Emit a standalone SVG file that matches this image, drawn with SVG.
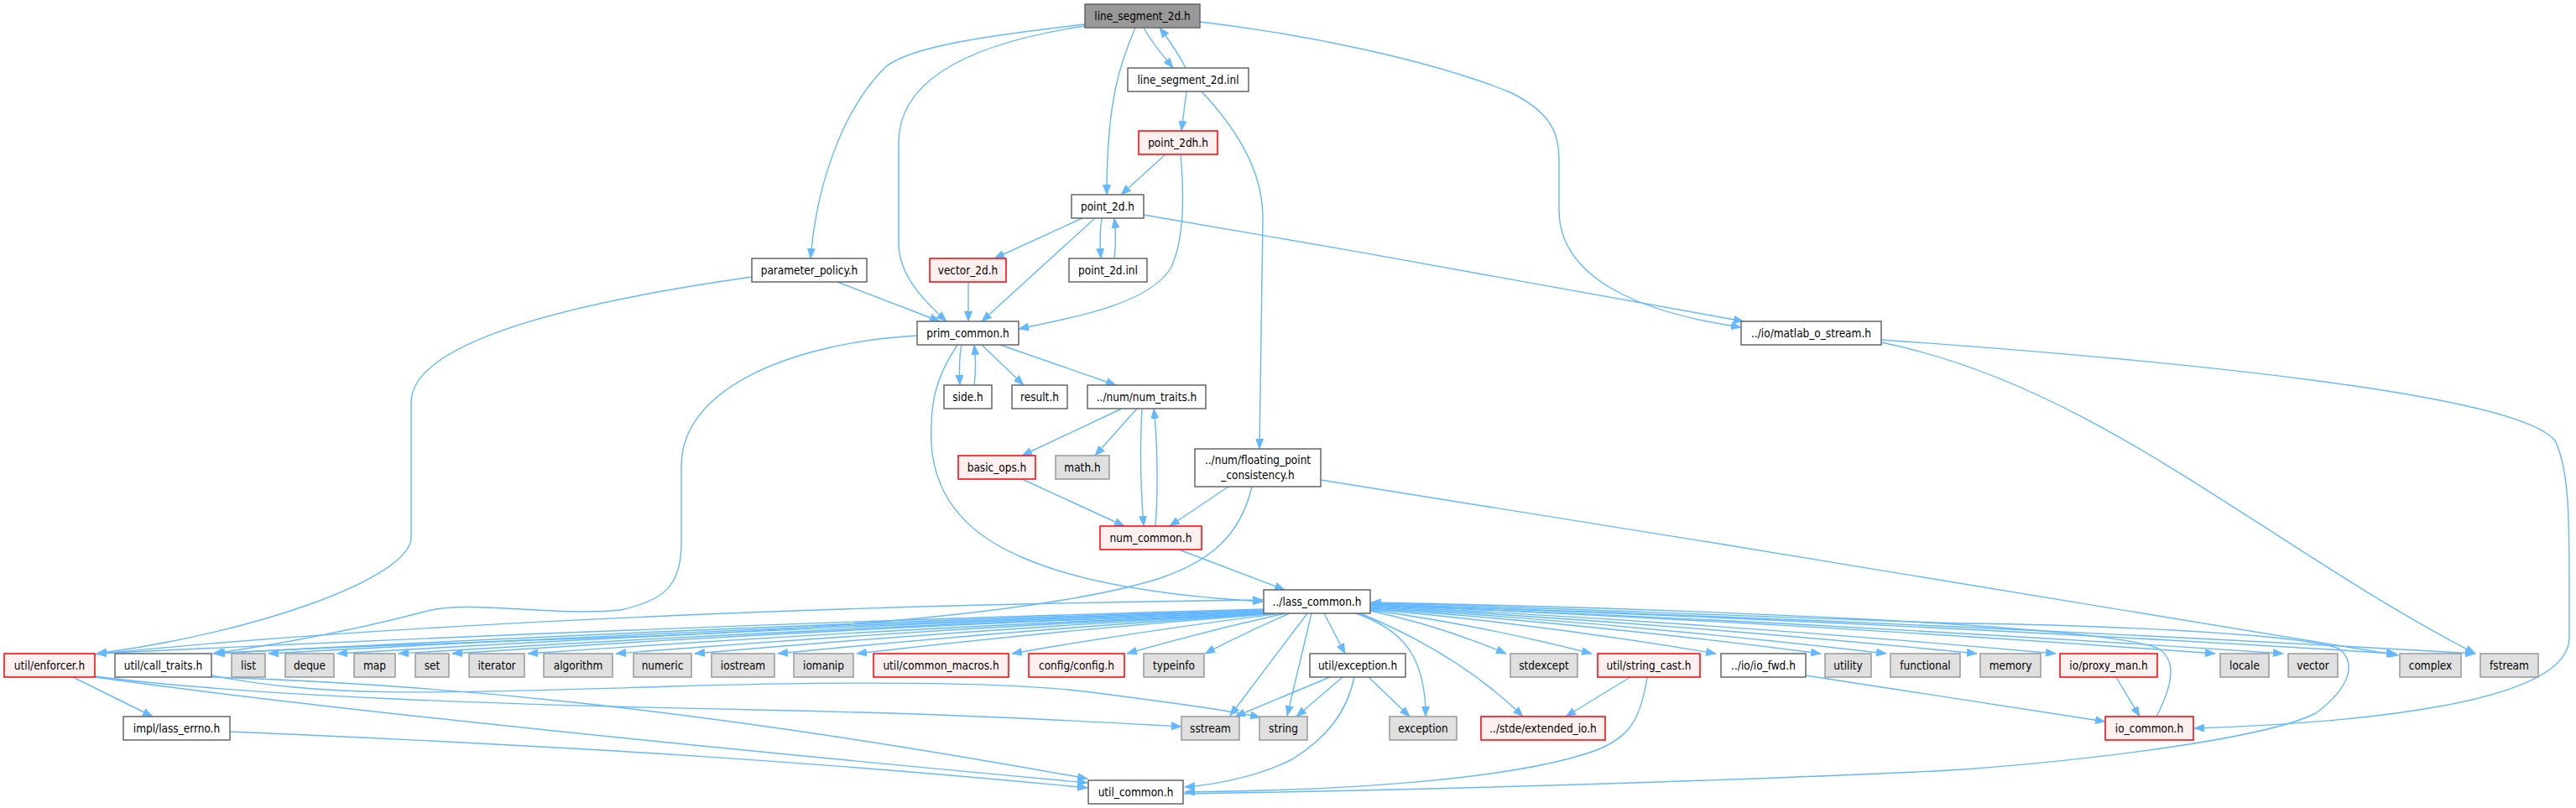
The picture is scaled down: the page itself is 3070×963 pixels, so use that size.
<svg xmlns="http://www.w3.org/2000/svg" width="3070" height="963" viewBox="0 0 3070 963">
<defs>
<style>
.e{fill:none;stroke:#63b8ff;stroke-width:1.4}
.n rect{stroke-width:1.5}
.root rect{fill:#999999;stroke:#666666}
.w rect{fill:#ffffff;stroke:#666666}
.g rect{fill:#e0e0e0;stroke:#999999}
.r rect{fill:#fff0f0;stroke:#ff0000}
text{font-family:"DejaVu Sans Condensed","DejaVu Sans",sans-serif;font-stretch:condensed;font-size:13.5px;text-anchor:middle;fill:#000000}
</style>
<marker id="a" markerWidth="13" markerHeight="10" refX="12" refY="5" orient="auto" markerUnits="userSpaceOnUse"><path d="M0,0L13,5L0,10z" fill="#63b8ff"/></marker>
</defs>
<rect width="3070" height="963" fill="#ffffff"/>
<g id="edges" marker-end="url(#a)">
<path class="e" marker-end="url(#a)" d="M1293,29 C1180,42 1085,55 1055,80 C1000,135 972,230 966,308"/>
<path class="e" marker-end="url(#a)" d="M1293,31 C1180,48 1071,85 1071,170 L1071,290 C1071,330 1105,362 1128,383"/>
<path class="e" marker-end="url(#a)" d="M1353,33 C1335,75 1319,120 1319,232"/>
<path class="e" marker-end="url(#a)" d="M1363,33 C1372,50 1385,65 1398,81"/>
<path class="e" marker-end="url(#a)" d="M1413,81 C1405,65 1395,50 1382,33"/>
<path class="e" marker-end="url(#a)" d="M1414,109 L1408,156"/>
<path class="e" marker-end="url(#a)" d="M1432,109 C1470,150 1505,200 1505,260 L1501,535"/>
<path class="e" marker-end="url(#a)" d="M1430,26 C1550,40 1700,70 1800,110 C1850,135 1858,160 1858,190 L1858,250 C1858,330 1950,372 2075,390"/>
<path class="e" marker-end="url(#a)" d="M1389,184 L1336,232"/>
<path class="e" marker-end="url(#a)" d="M1407,184 C1412,240 1410,290 1395,320 C1370,360 1290,377 1214,392"/>
<path class="e" marker-end="url(#a)" d="M1290,260 L1185,308"/>
<path class="e" marker-end="url(#a)" d="M1305,260 L1170,383"/>
<path class="e" marker-end="url(#a)" d="M1313,260 C1310,280 1311,295 1312,308"/>
<path class="e" marker-end="url(#a)" d="M1328,308 C1330,290 1330,275 1328,260"/>
<path class="e" marker-end="url(#a)" d="M1363,256 C1600,296 1900,350 2078,383"/>
<path class="e" marker-end="url(#a)" d="M1154,336 L1154,383"/>
<path class="e" marker-end="url(#a)" d="M998,336 L1120,383"/>
<path class="e" marker-end="url(#a)" d="M896,330 C720,355 490,400 490,480 L490,640 C490,690 300,755 115,779"/>
<path class="e" marker-end="url(#a)" d="M1146,411 C1143,425 1143,440 1144,459"/>
<path class="e" marker-end="url(#a)" d="M1161,459 C1163,445 1163,428 1161,411"/>
<path class="e" marker-end="url(#a)" d="M1170,411 L1220,459"/>
<path class="e" marker-end="url(#a)" d="M1192,411 L1330,459"/>
<path class="e" marker-end="url(#a)" d="M1141,411 C1115,450 1108,480 1110,530 C1115,600 1160,640 1220,665 C1300,700 1420,712 1505,717"/>
<path class="e" marker-end="url(#a)" d="M1093,400 C950,408 812,460 812,555 L812,647 C812,700 790,715 740,727 C660,735 560,715 510,728 C420,752 330,768 254,779"/>
<path class="e" marker-end="url(#a)" d="M1337,487 L1218,543"/>
<path class="e" marker-end="url(#a)" d="M1355,487 L1305,543"/>
<path class="e" marker-end="url(#a)" d="M1361,487 C1358,540 1360,590 1363,627"/>
<path class="e" marker-end="url(#a)" d="M1377,627 C1380,590 1380,530 1375,487"/>
<path class="e" marker-end="url(#a)" d="M1218,571 L1340,627"/>
<path class="e" marker-end="url(#a)" d="M1464,580 L1394,627"/>
<path class="e" marker-end="url(#a)" d="M1405,655 L1531,703"/>
<path class="e" marker-end="url(#a)" d="M1492,580 C1478,640 1440,670 1380,690 C1250,730 1000,748 780,758 C550,766 350,772 256,779"/>
<path class="e" marker-end="url(#a)" d="M1574,572 C2000,640 2500,720 2858,781"/>
<path class="e" marker-end="url(#a)" d="M2242,408 C2500,460 2700,650 2950,779"/>
<path class="e" marker-end="url(#a)" d="M2242,405 C2600,430 3000,470 3045,525 C3062,560 3062,620 3062,700 L3062,760 C3062,840 2800,862 2615,868"/>
<path class="e" marker-end="url(#a)" d="M2522,807 L2550,854"/>
<path class="e" marker-end="url(#a)" d="M2570,854 C2590,815 2595,785 2570,772 C2500,745 2000,725 1634,718"/>
<path class="e" marker-end="url(#a)" d="M1410,946 C1800,940 2200,925 2340,917 C2500,905 2700,880 2760,850 C2800,820 2810,790 2787,773 C2740,755 2500,745 2340,743 C2000,732 1800,722 1634,719"/>
<path class="e" marker-end="url(#a)" d="M113,780 C400,750 900,722 1505,715"/>
<path class="e" marker-end="url(#a)" d="M1506,726 Q810,745 115,779"/>
<path class="e" marker-end="url(#a)" d="M1506,727 Q880,745 255,779"/>
<path class="e" marker-end="url(#a)" d="M1506,728 Q913,746 320,779"/>
<path class="e" marker-end="url(#a)" d="M1506,729 Q954,746 402,779"/>
<path class="e" marker-end="url(#a)" d="M1507,730 Q991,747 475,779"/>
<path class="e" marker-end="url(#a)" d="M1508,730 Q1023,747 539,779"/>
<path class="e" marker-end="url(#a)" d="M1510,731 Q1070,748 629,779"/>
<path class="e" marker-end="url(#a)" d="M1512,731 Q1123,748 734,779"/>
<path class="e" marker-end="url(#a)" d="M1515,731 Q1171,749 828,779"/>
<path class="e" marker-end="url(#a)" d="M1518,731 Q1222,750 927,779"/>
<path class="e" marker-end="url(#a)" d="M1522,731 Q1271,750 1021,779"/>
<path class="e" marker-end="url(#a)" d="M1527,731 Q1366,751 1206,779"/>
<path class="e" marker-end="url(#a)" d="M1532,731 Q1437,752 1343,779"/>
<path class="e" marker-end="url(#a)" d="M1537,731 Q1486,753 1436,779"/>
<path class="e" marker-end="url(#a)" d="M1633,728 Q1714,745 1795,779"/>
<path class="e" marker-end="url(#a)" d="M1633,727 Q1765,745 1897,779"/>
<path class="e" marker-end="url(#a)" d="M1633,726 Q1839,744 2045,779"/>
<path class="e" marker-end="url(#a)" d="M1633,725 Q1901,744 2170,779"/>
<path class="e" marker-end="url(#a)" d="M1633,724 Q1940,743 2248,779"/>
<path class="e" marker-end="url(#a)" d="M1633,723 Q1994,743 2356,779"/>
<path class="e" marker-end="url(#a)" d="M1633,722 Q2041,742 2450,779"/>
<path class="e" marker-end="url(#a)" d="M1633,721 Q2136,742 2640,779"/>
<path class="e" marker-end="url(#a)" d="M1633,721 Q2177,742 2721,779"/>
<path class="e" marker-end="url(#a)" d="M1633,720 Q2244,741 2856,779"/>
<path class="e" marker-end="url(#a)" d="M1633,720 Q2291,741 2950,779"/>
<path class="e" marker-end="url(#a)" d="M1558,731 L1466,853"/>
<path class="e" marker-end="url(#a)" d="M1563,731 L1534,853"/>
<path class="e" marker-end="url(#a)" d="M1578,731 L1603,779"/>
<path class="e" marker-end="url(#a)" d="M1616,731 C1670,750 1699,780 1699,854"/>
<path class="e" marker-end="url(#a)" d="M1621,731 Q1740,780 1815,854"/>
<path class="e" marker-end="url(#a)" d="M87,807 L182,854"/>
<path class="e" marker-end="url(#a)" d="M1585,807 L1472,854"/>
<path class="e" marker-end="url(#a)" d="M1600,807 L1545,854"/>
<path class="e" marker-end="url(#a)" d="M1631,807 L1680,854"/>
<path class="e" marker-end="url(#a)" d="M1614,807 C1605,850 1580,880 1540,905 C1500,925 1450,935 1412,938"/>
<path class="e" marker-end="url(#a)" d="M1943,807 L1866,854"/>
<path class="e" marker-end="url(#a)" d="M1963,807 C1955,860 1940,880 1900,895 C1800,930 1600,942 1412,944"/>
<path class="e" marker-end="url(#a)" d="M2152,805 L2509,860"/>
<path class="e" marker-end="url(#a)" d="M252,805 C380,830 500,828 800,818 C1000,812 1200,812 1300,825 C1400,838 1460,846 1502,855"/>
<path class="e" marker-end="url(#a)" d="M113,806 C300,830 600,840 900,846 C1150,851 1300,860 1408,866"/>
<path class="e" marker-end="url(#a)" d="M113,807 C350,840 700,878 1296,933"/>
<path class="e" marker-end="url(#a)" d="M252,807 C500,815 800,838 1296,928"/>
<path class="e" marker-end="url(#a)" d="M274,872 C700,890 1000,910 1296,939"/>
</g>
<g id="n_ls" class="n root"><rect x="1293" y="5" width="137" height="28"/><text x="1361.5" y="24">line_segment_2d.h</text></g>
<g id="n_lsi" class="n w"><rect x="1344" y="81" width="144" height="28"/><text x="1416" y="100">line_segment_2d.inl</text></g>
<g id="n_p2dh" class="n r"><rect x="1357" y="156" width="94" height="28"/><text x="1404" y="175">point_2dh.h</text></g>
<g id="n_p2d" class="n w"><rect x="1277" y="232" width="86" height="28"/><text x="1320" y="251">point_2d.h</text></g>
<g id="n_pp" class="n w"><rect x="896" y="308" width="137" height="28"/><text x="964.5" y="327">parameter_policy.h</text></g>
<g id="n_v2d" class="n r"><rect x="1108" y="308" width="91" height="28"/><text x="1153.5" y="327">vector_2d.h</text></g>
<g id="n_p2di" class="n w"><rect x="1274" y="308" width="93" height="28"/><text x="1320.5" y="327">point_2d.inl</text></g>
<g id="n_prim" class="n w"><rect x="1093" y="383" width="121" height="28"/><text x="1153.5" y="402">prim_common.h</text></g>
<g id="n_matlab" class="n w"><rect x="2075" y="383" width="167" height="28"/><text x="2158.5" y="402">../io/matlab_o_stream.h</text></g>
<g id="n_side" class="n w"><rect x="1125" y="459" width="57" height="28"/><text x="1153.5" y="478">side.h</text></g>
<g id="n_result" class="n w"><rect x="1206" y="459" width="66" height="28"/><text x="1239" y="478">result.h</text></g>
<g id="n_numtraits" class="n w"><rect x="1296" y="459" width="141" height="28"/><text x="1366.5" y="478">../num/num_traits.h</text></g>
<g id="n_basic" class="n r"><rect x="1142" y="543" width="92" height="28"/><text x="1188" y="562">basic_ops.h</text></g>
<g id="n_math" class="n g"><rect x="1258" y="543" width="64" height="28"/><text x="1290" y="562">math.h</text></g>
<g id="n_fp" class="n w"><rect x="1424" y="535" width="150" height="45"/><text x="1499" y="553">../num/floating_point</text><text x="1499" y="571">_consistency.h</text></g>
<g id="n_numcommon" class="n r"><rect x="1311" y="627" width="121" height="28"/><text x="1371.5" y="646">num_common.h</text></g>
<g id="n_lass" class="n w"><rect x="1506" y="703" width="127" height="28"/><text x="1569.5" y="722">../lass_common.h</text></g>
<g id="n_enforcer" class="n r"><rect x="5" y="779" width="108" height="28"/><text x="59" y="798">util/enforcer.h</text></g>
<g id="n_calltraits" class="n w"><rect x="137" y="779" width="115" height="28"/><text x="194.5" y="798">util/call_traits.h</text></g>
<g id="n_list" class="n g"><rect x="276" y="779" width="40" height="28"/><text x="296" y="798">list</text></g>
<g id="n_deque" class="n g"><rect x="340" y="779" width="58" height="28"/><text x="369" y="798">deque</text></g>
<g id="n_map" class="n g"><rect x="422" y="779" width="49" height="28"/><text x="446.5" y="798">map</text></g>
<g id="n_set" class="n g"><rect x="495" y="779" width="40" height="28"/><text x="515" y="798">set</text></g>
<g id="n_iterator" class="n g"><rect x="559" y="779" width="66" height="28"/><text x="592" y="798">iterator</text></g>
<g id="n_algorithm" class="n g"><rect x="648" y="779" width="82" height="28"/><text x="689" y="798">algorithm</text></g>
<g id="n_numeric" class="n g"><rect x="755" y="779" width="69" height="28"/><text x="789.5" y="798">numeric</text></g>
<g id="n_iostream" class="n g"><rect x="848" y="779" width="75" height="28"/><text x="885.5" y="798">iostream</text></g>
<g id="n_iomanip" class="n g"><rect x="946" y="779" width="71" height="28"/><text x="981.5" y="798">iomanip</text></g>
<g id="n_macros" class="n r"><rect x="1041" y="779" width="161" height="28"/><text x="1121.5" y="798">util/common_macros.h</text></g>
<g id="n_config" class="n r"><rect x="1226" y="779" width="114" height="28"/><text x="1283" y="798">config/config.h</text></g>
<g id="n_typeinfo" class="n g"><rect x="1363" y="779" width="72" height="28"/><text x="1399" y="798">typeinfo</text></g>
<g id="n_exch" class="n w"><rect x="1561" y="779" width="114" height="28"/><text x="1618" y="798">util/exception.h</text></g>
<g id="n_stdexcept" class="n g"><rect x="1800" y="779" width="80" height="28"/><text x="1840" y="798">stdexcept</text></g>
<g id="n_stringcast" class="n r"><rect x="1904" y="779" width="122" height="28"/><text x="1965" y="798">util/string_cast.h</text></g>
<g id="n_iofwd" class="n w"><rect x="2051" y="779" width="101" height="28"/><text x="2101.5" y="798">../io/io_fwd.h</text></g>
<g id="n_utility" class="n g"><rect x="2175" y="779" width="55" height="28"/><text x="2202.5" y="798">utility</text></g>
<g id="n_functional" class="n g"><rect x="2253" y="779" width="83" height="28"/><text x="2294.5" y="798">functional</text></g>
<g id="n_memory" class="n g"><rect x="2360" y="779" width="72" height="28"/><text x="2396" y="798">memory</text></g>
<g id="n_proxy" class="n r"><rect x="2455" y="779" width="116" height="28"/><text x="2513" y="798">io/proxy_man.h</text></g>
<g id="n_locale" class="n g"><rect x="2646" y="779" width="58" height="28"/><text x="2675" y="798">locale</text></g>
<g id="n_vector" class="n g"><rect x="2727" y="779" width="59" height="28"/><text x="2756.5" y="798">vector</text></g>
<g id="n_complex" class="n g"><rect x="2860" y="779" width="73" height="28"/><text x="2896.5" y="798">complex</text></g>
<g id="n_fstream" class="n g"><rect x="2956" y="779" width="69" height="28"/><text x="2990.5" y="798">fstream</text></g>
<g id="n_errno" class="n w"><rect x="147" y="854" width="127" height="28"/><text x="210.5" y="873">impl/lass_errno.h</text></g>
<g id="n_sstream" class="n g"><rect x="1408" y="854" width="69" height="28"/><text x="1442.5" y="873">sstream</text></g>
<g id="n_string" class="n g"><rect x="1501" y="854" width="57" height="28"/><text x="1529.5" y="873">string</text></g>
<g id="n_exception" class="n g"><rect x="1656" y="854" width="80" height="28"/><text x="1696" y="873">exception</text></g>
<g id="n_extio" class="n r"><rect x="1765" y="854" width="148" height="28"/><text x="1839" y="873">../stde/extended_io.h</text></g>
<g id="n_iocommon" class="n r"><rect x="2509" y="854" width="105" height="28"/><text x="2561.5" y="873">io_common.h</text></g>
<g id="n_utilcommon" class="n w"><rect x="1297" y="930" width="113" height="28"/><text x="1353.5" y="949">util_common.h</text></g>
</svg>
